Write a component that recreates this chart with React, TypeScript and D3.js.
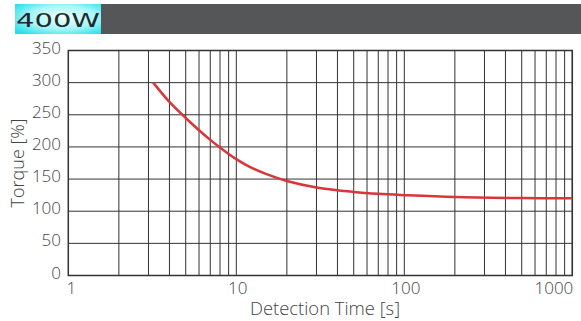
import React from "react";
import * as d3 from "d3";

const detectionTime = [3.2, 4, 5, 6, 7, 8, 9, 10, 12, 15, 20, 30, 50, 70, 100, 200, 500, 1000];
const torque = [300, 270, 245, 226, 211, 199, 189, 181, 169, 158, 147, 137, 130, 127, 125, 122, 120.5, 120];
const yTicks = [0, 50, 100, 150, 200, 250, 300, 350];
const xLabelTicks = [1, 10, 100, 1000];
const title = "400W";
const xTitle = "Detection Time [s]";
const yTitle = "Torque [%]";

const W = 581;
const H = 321;
const L = 68.3, R = 572.3, T = 50.5, B = 275.5;

export default function App() {
  const x = d3.scaleLog().domain([1, 1000]).range([L, R]);
  const y = d3.scaleLinear().domain([0, 350]).range([B, T]);
  const gridX: number[] = [];
  for (const dec of [1, 10, 100]) for (let k = 2; k <= 10; k++) gridX.push(dec * k);
  const pts = detectionTime.map((t, i) => [x(t), y(torque[i])] as [number, number]);
  const line = d3.line().curve(d3.curveCatmullRom.alpha(0.5))(pts) || "";
  const font = "'Open Sans', sans-serif";
  return (
    <svg width={W} height={H} style={{ position: "absolute", left: 0, top: 0 }}>
      <defs>
        <radialGradient id="cy" cx="0.55" cy="0.45" r="0.7">
          <stop offset="0" stopColor="#f2ffff" />
          <stop offset="0.55" stopColor="#a8f6f8" />
          <stop offset="1" stopColor="#22dfe8" />
        </radialGradient>
      </defs>
      <rect x={0} y={0} width={W} height={H} fill="#fff" />
      <rect x={101} y={4} width={W - 101} height={30} fill="#555658" />
      <rect x={15} y={4} width={86} height={30} fill="url(#cy)" />
      <text x={16} y={27} fontFamily="'DejaVu Sans', sans-serif" fontSize={20} fill="#1d2a2e"
        textLength={84} lengthAdjust="spacingAndGlyphs">{title}</text>
      {yTicks.map((v) => (
        <line key={"h" + v} x1={L} x2={R} y1={y(v)} y2={y(v)} stroke="#333" strokeWidth={1} />
      ))}
      {gridX.map((v) => (
        <line key={"v" + v} x1={x(v)} x2={x(v)} y1={T} y2={B} stroke="#333" strokeWidth={1} />
      ))}
      <rect x={L} y={T} width={R - L} height={B - T} fill="none" stroke="#333" strokeWidth={1.5} />
      <path d={line} fill="none" stroke="#d9363a" strokeWidth={2.5} />
      {yTicks.map((v) => (
        <text key={"yl" + v} x={61} y={y(v) + 3} textAnchor="end" fontFamily={font} fontWeight={300} fontSize={17} fill="#444">{v}</text>
      ))}
      {xLabelTicks.map((v, i) => (
        <text key={"xl" + v} x={i === xLabelTicks.length - 1 ? x(v) + 1 : x(v) + (i === 0 ? 3 : 1.5)} y={294}
          textAnchor={i === xLabelTicks.length - 1 ? "end" : "middle"} fontFamily={font} fontWeight={300} fontSize={17} fill="#444">{v}</text>
      ))}
      <text x={325} y={315} textAnchor="middle" fontFamily={font} fontWeight={300} fontSize={18.4} fill="#444">{xTitle}</text>
      <text transform={`translate(24,163) rotate(-90)`} textAnchor="middle" fontFamily={font} fontWeight={300} fontSize={18} fill="#444">{yTitle}</text>
    </svg>
  );
}
